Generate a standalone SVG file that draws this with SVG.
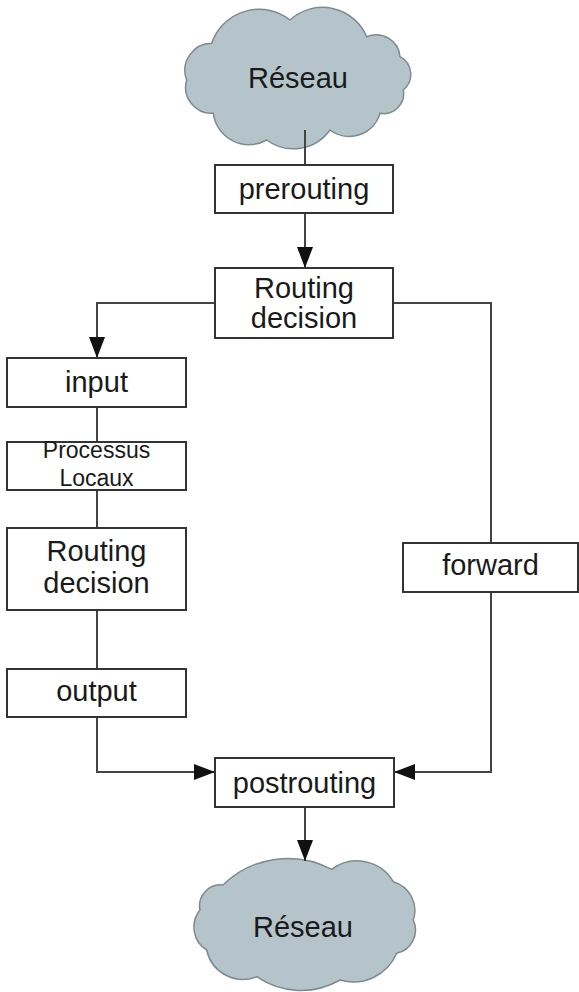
<svg xmlns="http://www.w3.org/2000/svg" width="579" height="992" viewBox="0 0 579 992">
  <style>
    .box { fill: #ffffff; stroke: #333333; stroke-width: 2; }
    .cloud { fill: #b5c4ca; stroke: #7f8a8f; stroke-width: 1.5; }
    .lbl { font-family: "Liberation Sans", Arial, sans-serif; font-size: 29px; fill: #1a1a1a; text-anchor: middle; }
    .small { font-size: 23px; }
    .wire { fill: none; stroke: #444444; stroke-width: 2; }
  </style>
  <defs>
    <marker id="arrow" markerUnits="userSpaceOnUse" markerWidth="22" markerHeight="16" refX="21" refY="8" orient="auto">
      <path d="M0,0 L21,8 L0,16 Z" fill="#111111"/>
    </marker>
  </defs>

  <rect width="579" height="992" fill="#ffffff"/>

  <!-- network cloud, top -->
  <g id="reseau-top">
    <path class="cloud" d="M211.7,43.3 A50,50 0 0 1 290,20 A48,48 0 0 1 366.7,36.7 A24,24 0 0 1 400,56.7 A20,20 0 0 1 403.3,90 A20,20 0 0 1 380,113.3 A32,32 0 0 1 330,130 A45,45 0 0 1 266.7,140 A36,36 0 0 1 213.3,113.3 A26,26 0 0 1 186.7,80 A27,27 0 0 1 211.7,43.3 Z"/>
    <text class="lbl" x="298" y="88">Réseau</text>
  </g>

  <!-- network cloud, bottom -->
  <g id="reseau-bottom">
    <path class="cloud" d="M223,885 A93,93 0 0 1 331.7,869.3 A42,42 0 0 1 393.3,881.7 A30,30 0 0 1 413.3,920 A24,24 0 0 1 396.7,953.3 A47,47 0 0 1 340,980 A78,78 0 0 1 256.7,976.7 A37,37 0 0 1 206.7,950 A27,27 0 0 1 200,910 A21,21 0 0 1 223,885 Z"/>
    <text class="lbl" x="303" y="937">Réseau</text>
  </g>

  <!-- connectors -->
  <g id="connectors">
    <path class="wire" d="M305,130 V165"/>
    <path class="wire" d="M305,213 V268" marker-end="url(#arrow)"/>
    <path class="wire" d="M215,303 H97 V358" marker-end="url(#arrow)"/>
    <path class="wire" d="M393,303 H491 V543"/>
    <path class="wire" d="M491,592 V772 H394" marker-end="url(#arrow)"/>
    <path class="wire" d="M97,407 V442"/>
    <path class="wire" d="M97,490 V528"/>
    <path class="wire" d="M97,610 V669"/>
    <path class="wire" d="M97,717 V772 H215" marker-end="url(#arrow)"/>
    <path class="wire" d="M305,807 V861" marker-end="url(#arrow)"/>
  </g>

  <g id="prerouting">
    <rect class="box" x="215" y="165" width="178" height="48"/>
    <text class="lbl" x="304" y="199">prerouting</text>
  </g>

  <g id="routing-decision-1">
    <rect class="box" x="215" y="268" width="178" height="70"/>
    <text class="lbl" x="304" y="298">Routing</text>
    <text class="lbl" x="304" y="328">decision</text>
  </g>

  <g id="input">
    <rect class="box" x="7" y="358" width="179" height="49"/>
    <text class="lbl" x="96.5" y="392">input</text>
  </g>

  <g id="processus-locaux">
    <rect class="box" x="7" y="442" width="179" height="48"/>
    <text class="lbl small" x="96.5" y="458">Processus</text>
    <text class="lbl small" x="96.5" y="486">Locaux</text>
  </g>

  <g id="routing-decision-2">
    <rect class="box" x="7" y="528" width="179" height="82"/>
    <text class="lbl" x="96.5" y="561">Routing</text>
    <text class="lbl" x="96.5" y="593">decision</text>
  </g>

  <g id="output">
    <rect class="box" x="7" y="669" width="179" height="48"/>
    <text class="lbl" x="96.5" y="701">output</text>
  </g>

  <g id="forward">
    <rect class="box" x="403" y="543" width="175" height="49"/>
    <text class="lbl" x="490.5" y="575">forward</text>
  </g>

  <g id="postrouting">
    <rect class="box" x="215" y="758" width="179" height="49"/>
    <text class="lbl" x="304.5" y="793">postrouting</text>
  </g>
</svg>
